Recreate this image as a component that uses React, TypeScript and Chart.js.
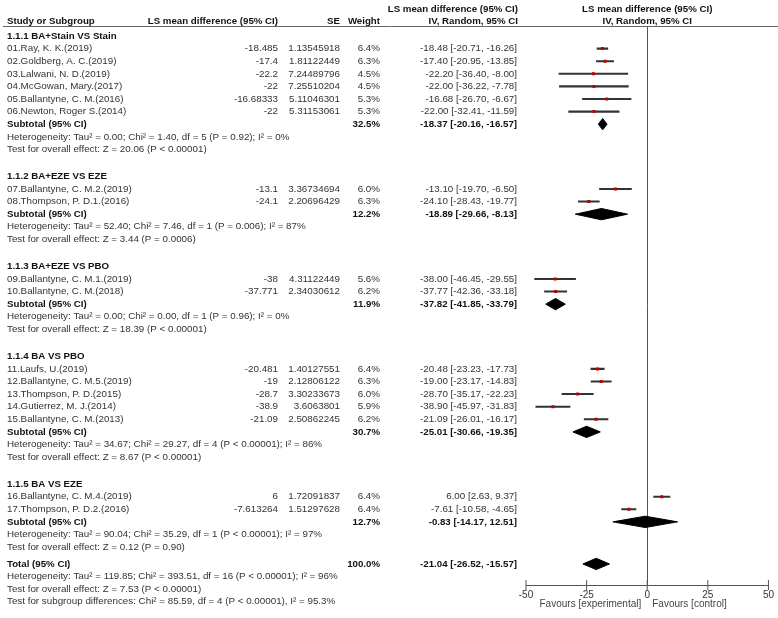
import React, { useEffect, useRef } from "react";
import { Chart, registerables } from "chart.js";

Chart.register(...registerables);

// ---------------- data ----------------
const groupTitles = [
  "1.1.1 BA+Stain VS Stain",
  "1.1.2 BA+EZE VS EZE",
  "1.1.3 BA+EZE VS PBO",
  "1.1.4 BA VS PBO",
  "1.1.5 BA VS EZE",
];
const groupSizes = [6, 2, 2, 5, 2];

const studyNames = [
  "01.Ray, K. K.(2019)",
  "02.Goldberg, A. C.(2019)",
  "03.Lalwani, N. D.(2019)",
  "04.McGowan, Mary.(2017)",
  "05.Ballantyne, C. M.(2016)",
  "06.Newton, Roger S.(2014)",
  "07.Ballantyne, C. M.2.(2019)",
  "08.Thompson, P. D.1.(2016)",
  "09.Ballantyne, C. M.1.(2019)",
  "10.Ballantyne, C. M.(2018)",
  "11.Laufs, U.(2019)",
  "12.Ballantyne, C. M.5.(2019)",
  "13.Thompson, P. D.(2015)",
  "14.Gutierrez, M. J.(2014)",
  "15.Ballantyne, C. M.(2013)",
  "16.Ballantyne, C. M.4.(2019)",
  "17.Thompson, P. D.2.(2016)",
];
const meanDiffs = [
  -18.485, -17.4, -22.2, -22, -16.68333, -22,
  -13.1, -24.1,
  -38, -37.771,
  -20.481, -19, -28.7, -38.9, -21.09,
  6, -7.613264,
];
const stdErrors = [
  "1.13545918", "1.81122449", "7.24489796", "7.25510204", "5.11046301", "5.31153061",
  "3.36734694", "2.20696429",
  "4.31122449", "2.34030612",
  "1.40127551", "2.12806122", "3.30233673", "3.6063801", "2.50862245",
  "1.72091837", "1.51297628",
];
const weights = [6.4, 6.3, 4.5, 4.5, 5.3, 5.3, 6.0, 6.3, 5.6, 6.2, 6.4, 6.3, 6.0, 5.9, 6.2, 6.4, 6.4];
const ciLows = [
  -20.71, -20.95, -36.4, -36.22, -26.7, -32.41,
  -19.7, -28.43,
  -46.45, -42.36,
  -23.23, -23.17, -35.17, -45.97, -26.01,
  2.63, -10.58,
];
const ciHighs = [
  -16.26, -13.85, -8.0, -7.78, -6.67, -11.59,
  -6.5, -19.77,
  -29.55, -33.18,
  -17.73, -14.83, -22.23, -31.83, -16.17,
  9.37, -4.65,
];

const subEst = [-18.37, -18.89, -37.82, -25.01, -0.83];
const subLow = [-20.16, -29.66, -41.85, -30.66, -14.17];
const subHigh = [-16.57, -8.13, -33.79, -19.35, 12.51];
const subWeights = [32.5, 12.2, 11.9, 30.7, 12.7];
const hetTexts = [
  "Heterogeneity: Tau\u00b2 = 0.00; Chi\u00b2 = 1.40, df = 5 (P = 0.92); I\u00b2 = 0%",
  "Heterogeneity: Tau\u00b2 = 52.40; Chi\u00b2 = 7.46, df = 1 (P = 0.006); I\u00b2 = 87%",
  "Heterogeneity: Tau\u00b2 = 0.00; Chi\u00b2 = 0.00, df = 1 (P = 0.96); I\u00b2 = 0%",
  "Heterogeneity: Tau\u00b2 = 34.67; Chi\u00b2 = 29.27, df = 4 (P < 0.00001); I\u00b2 = 86%",
  "Heterogeneity: Tau\u00b2 = 90.04; Chi\u00b2 = 35.29, df = 1 (P < 0.00001); I\u00b2 = 97%",
];
const effectTexts = [
  "Test for overall effect: Z = 20.06 (P < 0.00001)",
  "Test for overall effect: Z = 3.44 (P = 0.0006)",
  "Test for overall effect: Z = 18.39 (P < 0.00001)",
  "Test for overall effect: Z = 8.67 (P < 0.00001)",
  "Test for overall effect: Z = 0.12 (P = 0.90)",
];

const totalEst = -21.04;
const totalLow = -26.52;
const totalHigh = -15.57;
const totalWeight = 100.0;
const totalTexts = [
  "Heterogeneity: Tau\u00b2 = 119.85; Chi\u00b2 = 393.51, df = 16 (P < 0.00001); I\u00b2 = 96%",
  "Test for overall effect: Z = 7.53 (P < 0.00001)",
  "Test for subgroup differences: Chi\u00b2 = 85.59, df = 4 (P < 0.00001), I\u00b2 = 95.3%",
];

const xTicks = [-50, -25, 0, 25, 50];
const favourLeft = "Favours [experimental]";
const favourRight = "Favours [control]";

// ---------------- layout (row units) ----------------
const ROW_PX = 12.6;
const FIRST_ROW_PX = 36;
const GROUP_GAP = 2.14;
const TOTAL_GAP = 1.34;
const DIAMOND_H = 0.45;

type TextLine = {
  row: number;
  name: string;
  bold: boolean;
  mean?: string;
  se?: string;
  weight?: string;
  ci?: string;
};

const fmt2 = (v: number) => v.toFixed(2);
const ciLabel = (e: number, l: number, h: number) => `${fmt2(e)} [${fmt2(l)}, ${fmt2(h)}]`;

const lines: TextLine[] = [];
const studyRows: number[] = [];
const subRows: number[] = [];
let cursor = 0;
let sIdx = 0;
groupTitles.forEach((title, g) => {
  if (g > 0) cursor += GROUP_GAP - 1;
  lines.push({ row: cursor, name: title, bold: true });
  cursor += 1;
  for (let k = 0; k < groupSizes[g]; k++) {
    studyRows[sIdx] = cursor;
    lines.push({
      row: cursor,
      name: studyNames[sIdx],
      bold: false,
      mean: String(meanDiffs[sIdx]),
      se: stdErrors[sIdx],
      weight: weights[sIdx].toFixed(1) + "%",
      ci: ciLabel(meanDiffs[sIdx], ciLows[sIdx], ciHighs[sIdx]),
    });
    cursor += 1;
    sIdx++;
  }
  subRows[g] = cursor;
  lines.push({
    row: cursor,
    name: "Subtotal (95% CI)",
    bold: true,
    weight: subWeights[g].toFixed(1) + "%",
    ci: ciLabel(subEst[g], subLow[g], subHigh[g]),
  });
  cursor += 1;
  lines.push({ row: cursor, name: hetTexts[g], bold: false });
  cursor += 1;
  lines.push({ row: cursor, name: effectTexts[g], bold: false });
  cursor += 1;
});
cursor += TOTAL_GAP - 1;
const totalRow = cursor;
lines.push({
  row: totalRow,
  name: "Total (95% CI)",
  bold: true,
  weight: totalWeight.toFixed(1) + "%",
  ci: ciLabel(totalEst, totalLow, totalHigh),
});
totalTexts.forEach((t, i) => lines.push({ row: totalRow + 1 + i, name: t, bold: false }));

const PLOT_TOP = 26;
const PLOT_BOTTOM = 585;
const Y_MIN = (PLOT_TOP - FIRST_ROW_PX) / ROW_PX;
const Y_MAX = (PLOT_BOTTOM - FIRST_ROW_PX) / ROW_PX;

const diamond = (e: number, l: number, h: number, r: number) => [
  { x: l, y: r },
  { x: e, y: r - DIAMOND_H },
  { x: h, y: r },
  { x: e, y: r + DIAMOND_H },
  { x: l, y: r },
];

const FONT = '"Liberation Sans", Arial, sans-serif';

const textPlugin = {
  id: "forestText",
  afterDraw(chart: any) {
    const ctx = chart.ctx as CanvasRenderingContext2D;
    const ys = chart.scales.y;
    const xs = chart.scales.x;
    const py = (r: number) => ys.getPixelForValue(r);
    const zeroX = xs.getPixelForValue(0);
    ctx.save();
    ctx.textBaseline = "middle";
    const put = (t: string, px: number, r: number, align: CanvasTextAlign, bold: boolean) => {
      ctx.font = (bold ? "bold 9.7px " : "9.8px ") + FONT;
      ctx.fillStyle = bold ? "#111" : "#333";
      ctx.textAlign = align;
      ctx.fillText(t, px, py(r));
    };
    // headers
    const h1 = -2.1;
    const h2 = -1.14;
    put("LS mean difference (95% CI)", 518, h1, "right", true);
    put("LS mean difference (95% CI)", zeroX, h1, "center", true);
    put("Study or Subgroup", 7, h2, "left", true);
    put("LS mean difference (95% CI)", 278, h2, "right", true);
    put("SE", 340, h2, "right", true);
    put("Weight", 380, h2, "right", true);
    put("IV, Random, 95% CI", 518, h2, "right", true);
    put("IV, Random, 95% CI", zeroX, h2, "center", true);

    for (const ln of lines) {
      put(ln.name, 7, ln.row, "left", ln.bold);
      if (ln.mean) put(ln.mean, 278, ln.row, "right", false);
      if (ln.se) put(ln.se, 340, ln.row, "right", false);
      if (ln.weight) put(ln.weight, 380, ln.row, "right", ln.bold);
      if (ln.ci) put(ln.ci, 517, ln.row, "right", ln.bold);
    }

    // header divider
    ctx.strokeStyle = "#666";
    ctx.lineWidth = 1;
    ctx.beginPath();
    ctx.moveTo(3, chart.chartArea.top + 0.5);
    ctx.lineTo(chart.width, chart.chartArea.top + 0.5);
    ctx.stroke();

    // favours labels
    ctx.font = "10px " + FONT;
    ctx.fillStyle = "#444";
    ctx.textBaseline = "middle";
    ctx.textAlign = "right";
    ctx.fillText(favourLeft, zeroX - 6, 604);
    ctx.textAlign = "left";
    ctx.fillText(favourRight, zeroX + 5, 604);
    ctx.restore();
  },
};

export default function App() {
  const canvasRef = useRef<HTMLCanvasElement | null>(null);

  useEffect(() => {
    const canvas = canvasRef.current;
    if (!canvas) return;

    const datasets: any[] = [
      {
        type: "scatter",
        data: meanDiffs.map((m, i) => ({ x: m, y: studyRows[i] })),
        pointStyle: "rect",
        pointRadius: 2.1,
        pointBackgroundColor: "#c00000",
        pointBorderColor: "#c00000",
        pointBorderWidth: 0,
        order: 0,
      },
      {
        type: "bar",
        indexAxis: "y",
        data: ciLows.map((l, i) => ({ x: [l, ciHighs[i]], y: studyRows[i] })),
        backgroundColor: "#333",
        borderWidth: 0,
        barThickness: 1.4,
        order: 1,
      },
      ...subEst.map((e, g) => ({
        type: "line",
        data: diamond(e, subLow[g], subHigh[g], subRows[g]),
        borderColor: "#000",
        backgroundColor: "#000",
        borderWidth: 1,
        pointRadius: 0,
        tension: 0,
        fill: "shape",
        order: 2,
      })),
      {
        type: "line",
        data: diamond(totalEst, totalLow, totalHigh, totalRow),
        borderColor: "#000",
        backgroundColor: "#000",
        borderWidth: 1,
        pointRadius: 0,
        tension: 0,
        fill: "shape",
        order: 2,
      },
      {
        type: "scatter",
        data: xTicks.map((t) => ({ x: t, y: Y_MAX })),
        pointStyle: "line",
        rotation: 90,
        pointRadius: 5,
        pointBorderColor: "#555",
        pointBorderWidth: 1,
        clip: false,
        order: 3,
      },
    ];

    const chart = new Chart(canvas, {
      type: "scatter",
      data: { datasets },
      options: {
        animation: false,
        responsive: false,
        devicePixelRatio: 1,
        events: [],
        layout: { padding: { left: 526, right: 9.3, top: PLOT_TOP, bottom: 0 } },
        plugins: { legend: { display: false }, tooltip: { enabled: false } },
        scales: {
          x: {
            type: "linear",
            min: -50,
            max: 50,
            offset: false,
            afterBuildTicks: (s: any) => {
              s.ticks = xTicks.map((v) => ({ value: v }));
            },
            afterFit: (s: any) => {
              s.height = 618 - PLOT_BOTTOM;
            },
            grid: {
              offset: false,
              drawTicks: false,
              color: (c: any) => (c.tick && c.tick.value === 0 ? "#555" : "rgba(0,0,0,0)"),
              lineWidth: 1,
            },
            border: { display: true, color: "#555", width: 1 },
            ticks: {
              padding: 4,
              color: "#333",
              font: { family: FONT, size: 10 },
              maxRotation: 0,
            },
          },
          y: {
            type: "linear",
            display: false,
            reverse: true,
            min: Y_MIN,
            max: Y_MAX,
            offset: false,
            grid: { offset: false },
          },
        },
      },
      plugins: [textPlugin],
    } as any);

    return () => chart.destroy();
  }, []);

  return (
    <div style={{ position: "absolute", left: 0, top: 0, width: 778, height: 618, background: "#fff" }}>
      <canvas ref={canvasRef} width={778} height={618} style={{ width: 778, height: 618, display: "block" }} />
    </div>
  );
}
